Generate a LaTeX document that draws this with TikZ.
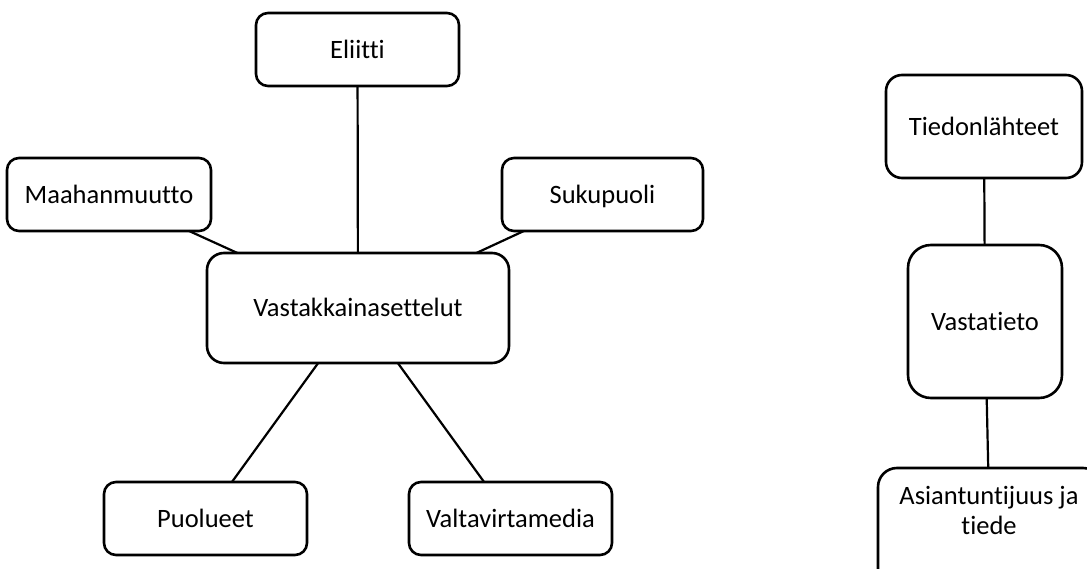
\documentclass[tikz,border=0pt]{standalone}
\usepackage{fontspec}
\setmainfont{Carlito}[Ligatures={NoCommon,NoRequired,NoContextual}]
\begin{document}
\begin{tikzpicture}[x=1pt,y=-1pt,
  box/.style={draw, line width=2.6pt, rounded corners=#1, outer sep=0pt, inner sep=0pt,
    align=center, text height=20.4pt, text depth=3.3pt,
    font=\fontsize{26.5}{30}\selectfont},
  box/.default=12pt,
  plain/.style={inner sep=0pt, outer sep=0pt, align=center, font=\fontsize{26.5}{30}\selectfont},
  link/.style={line width=2.2pt}]
\useasboundingbox (0,0) rectangle (1087,569);
\clip (0,0) rectangle (1087,569);
% left cluster
\node[box, minimum width=203pt, minimum height=73pt] (eli) at (357.5,49.5) {Eliitti};
\node[box, minimum width=204pt, minimum height=73pt] (maa) at (109,194.5) {Maahanmuutto};
\node[box, minimum width=201pt, minimum height=73pt] (suk) at (602.5,194.5) {Sukupuoli};
\node[box=17pt, minimum width=302pt, minimum height=110pt] (vas) at (358,308) {Vastakkainasettelut};
\node[box, minimum width=203pt, minimum height=73pt] (puo) at (205.5,518.5) {Puolueet};
\node[box, minimum width=203pt, minimum height=73pt] (val) at (510.5,518.5) {Valtavirtamedia};
\draw[link] (eli) -- (vas);
\draw[link] (maa) -- (vas);
\draw[link] (suk) -- (vas);
\draw[link] (puo) -- (vas);
\draw[link] (val) -- (vas);
% right column
\node[box=16pt, minimum width=196pt, minimum height=103pt] (tie) at (984,126.5) {Tiedonlähteet};
\node[box=23pt, minimum width=154pt, minimum height=153pt] (vti) at (985,321.5) {Vastatieto};
\node[box=19pt, minimum width=224pt, minimum height=160pt] (asi) at (990,548) {};
\node[plain] (asitext) at (989,510) {Asiantuntijuus ja\\tiede};
\draw[link] (tie) -- (vti);
\draw[link] (vti) -- (asi);
\end{tikzpicture}
\end{document}
